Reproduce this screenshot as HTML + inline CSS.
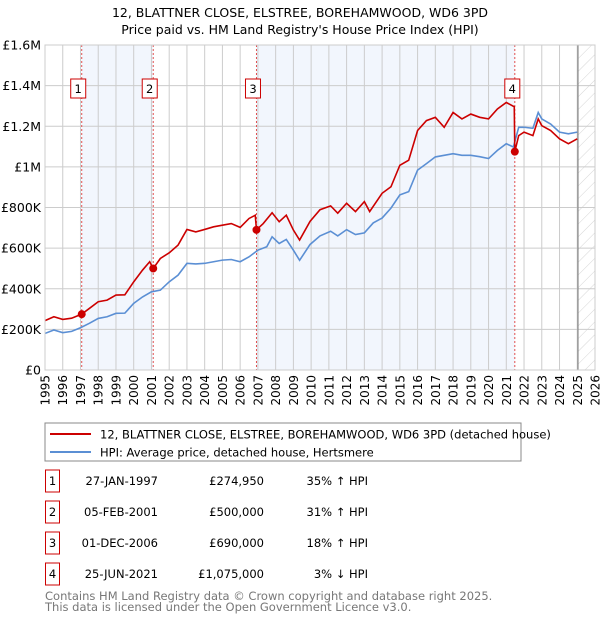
<!DOCTYPE html>
<html><head><meta charset="utf-8"><style>
body{margin:0;background:#fff;font-family:"Liberation Sans","DejaVu Sans",sans-serif;}
svg text{font-family:"DejaVu Sans","Liberation Sans",sans-serif;}
</style></head><body>
<svg id="c" width="600" height="620" xmlns="http://www.w3.org/2000/svg">
<defs><pattern id="hatch" width="9" height="9" patternUnits="userSpaceOnUse" patternTransform="rotate(45)"><line x1="0" y1="0" x2="0" y2="9" stroke="#ccc" stroke-width="0.8"/></pattern></defs>
<text x="300" y="17" text-anchor="middle" font-size="12.5">12, BLATTNER CLOSE, ELSTREE, BOREHAMWOOD, WD6 3PD</text>
<text x="300" y="34" text-anchor="middle" font-size="12.5">Price paid vs. HM Land Registry's House Price Index (HPI)</text>
<g id="plot"></g>
<rect x="45" y="423" width="476" height="38" fill="#fff" stroke="#888"/>
<line x1="50" y1="434" x2="91" y2="434" stroke="#cc0000" stroke-width="2"/>
<text x="100" y="438.5" font-size="11.5">12, BLATTNER CLOSE, ELSTREE, BOREHAMWOOD, WD6 3PD (detached house)</text>
<line x1="50" y1="452" x2="91" y2="452" stroke="#5b8fd4" stroke-width="2"/>
<text x="100" y="456.5" font-size="11.5">HPI: Average price, detached house, Hertsmere</text>
<g id="tbl" font-size="11.5"></g>
<text x="45" y="600" font-size="11.5" fill="#777">Contains HM Land Registry data © Crown copyright and database right 2025.</text>
<text x="45" y="611" font-size="11.5" fill="#777">This data is licensed under the Open Government Licence v3.0.</text>
</svg>
<script>
const hpiYears=[1995,1995.5,1996,1996.5,1997,1997.5,1998,1998.5,1999,1999.5,2000,2000.5,2001,2001.5,2002,2002.5,2003,2003.5,2004,2004.5,2005,2005.5,2006,2006.5,2007,2007.5,2007.8,2008.2,2008.6,2009,2009.35,2009.94,2010.5,2011.1,2011.5,2012,2012.5,2013,2013.5,2014,2014.5,2015,2015.5,2016,2016.5,2017,2017.5,2018,2018.5,2019,2019.5,2020,2020.5,2021,2021.4,2021.7,2022,2022.5,2022.8,2023,2023.5,2024,2024.5,2025];
const hpiValues=[180,197,184,190,208,230,254,262,279,280,328,360,385,393,434,467,525,522,525,533,541,544,533,557,590,607,656,623,643,590,540,618,660,683,660,691,667,675,724,748,797,862,878,984,1016,1049,1057,1065,1057,1057,1050,1041,1081,1114,1098,1195,1195,1190,1268,1236,1211,1171,1163,1171];
const redYears=[1995,1995.5,1996,1996.5,1997.07,1997.5,1998,1998.5,1999,1999.5,2000,2000.5,2000.9,2001.1,2001.5,2002,2002.5,2003,2003.5,2004,2004.5,2005,2005.5,2006,2006.5,2006.85,2006.92,2007.3,2007.8,2008.2,2008.6,2009,2009.35,2009.94,2010.5,2011.1,2011.5,2012,2012.5,2013,2013.3,2014,2014.5,2015,2015.5,2016,2016.5,2017,2017.5,2018,2018.5,2019,2019.5,2020,2020.5,2021,2021.45,2021.48,2021.7,2022,2022.5,2022.8,2023,2023.5,2024,2024.5,2025];
const redValues=[243,262,249,255,275,303,336,344,369,370,434,492,533,500,549,577,615,692,680,692,705,713,721,702,746,762,690,721,774,730,762,689,640,732,789,808,772,821,780,829,780,870,902,1008,1033,1179,1228,1244,1195,1268,1236,1260,1244,1236,1285,1317,1296,1075,1154,1171,1154,1236,1203,1179,1138,1114,1138];
const saleYears=[1997.07,2001.1,2006.92,2021.48];
const salePrices=[274.95,500,690,1075];
const saleLabels=["1","2","3","4"];
const saleDates=["27-JAN-1997","05-FEB-2001","01-DEC-2006","25-JUN-2021"];
const salePriceText=["£274,950","£500,000","£690,000","£1,075,000"];
const saleHpiText=["35% ↑ HPI","31% ↑ HPI","18% ↑ HPI","3% ↓ HPI"];
const yTicks=[0,200,400,600,800,1000,1200,1400,1600];
const yTickLabels=["£0","£200K","£400K","£600K","£800K","£1M","£1.2M","£1.4M","£1.6M"];
const xTicks=[];for(let y=1995;y<=2026;y++)xTicks.push(y);

const X0=45,X1=595,Y0=370,Y1=45;
const xs=v=>X0+(v-1995)/(2026-1995)*(X1-X0);
const ys=v=>Y0-v/1600*(Y0-Y1);
const NS="http://www.w3.org/2000/svg";
const g=document.getElementById('plot');
function mk(t,a,p){const e=document.createElementNS(NS,t);for(const k in a)e.setAttribute(k,a[k]);(p||g).appendChild(e);return e;}
const bands=[[0,1],[2,3]];
bands.forEach((b,i)=>{const r=mk('rect',{x:xs(saleYears[b[0]]),y:Y1,width:xs(saleYears[b[1]])-xs(saleYears[b[0]]),height:Y0-Y1,fill:'#f2f6fd'});

});
const hx=xs(2025.04);
const hr=mk('rect',{x:hx,y:Y1,width:X1-hx,height:Y0-Y1,fill:'url(#hatch)'});


xTicks.forEach(t=>{const l=mk('line',{x1:xs(t),x2:xs(t),y1:Y1,y2:Y0,stroke:'#ccc','stroke-width':1});


const tx=mk('text',{x:0,y:0,'font-size':12,'text-anchor':'end',transform:`translate(${xs(t)+4.5},375) rotate(-90)`});tx.textContent=t;

});
yTicks.forEach((t,i)=>{const l=mk('line',{x1:X0,x2:X1,y1:ys(t),y2:ys(t),stroke:'#ccc','stroke-width':1});


const tx=mk('text',{x:X0-4,y:ys(t)+4.5,'font-size':12.5,'text-anchor':'end'});tx.textContent=yTickLabels[i];

});
const vl=mk('line',{x1:hx,x2:hx,y1:Y1,y2:Y0,stroke:'#888','stroke-width':1.2});


saleYears.forEach((s,i)=>{const l=mk('line',{x1:xs(s),x2:xs(s),y1:Y1,y2:Y0,stroke:'#e05050','stroke-width':1,'stroke-dasharray':'2,2'});

});
const pb=mk('polyline',{points:hpiYears.map((y,i)=>xs(y)+','+ys(hpiValues[i])).join(' '),fill:'none',stroke:'#5b8fd4','stroke-width':1.6});


const pr=mk('polyline',{points:redYears.map((y,i)=>xs(y)+','+ys(redValues[i])).join(' '),fill:'none',stroke:'#cc0000','stroke-width':1.6});


saleYears.forEach((s,i)=>{const c=mk('circle',{cx:xs(s),cy:ys(salePrices[i]),r:4,fill:'#cc0000'});


const bx=xs(s)-7-(i==3?3:4);
const r=mk('rect',{x:bx,y:79,width:15,height:19,fill:'#fff',stroke:'#cc0000'});


const t=mk('text',{x:bx+7.5,y:93,'font-size':11.5,'text-anchor':'middle'});t.textContent=saleLabels[i];

});
const border=mk('rect',{x:X0,y:Y1,width:X1-X0,height:Y0-Y1,fill:'none',stroke:'#ccc'});


const tb=document.getElementById('tbl');
const rowY=[481,512,543,574];
saleLabels.forEach((l,i)=>{const y=rowY[i];
const r=mk('rect',{x:45.5,y:y-11,width:14,height:22,fill:'#fff',stroke:'#cc0000'},tb);


const a=mk('text',{x:52.5,y:y+4,'text-anchor':'middle'},tb);a.textContent=l;


const d=mk('text',{x:158,y:y+4,'text-anchor':'end'},tb);d.textContent=saleDates[i];


const p=mk('text',{x:264,y:y+4,'text-anchor':'end'},tb);p.textContent=salePriceText[i];


const h=mk('text',{x:368,y:y+4,'text-anchor':'end'},tb);h.textContent=saleHpiText[i];

});
</script>
</body></html>
